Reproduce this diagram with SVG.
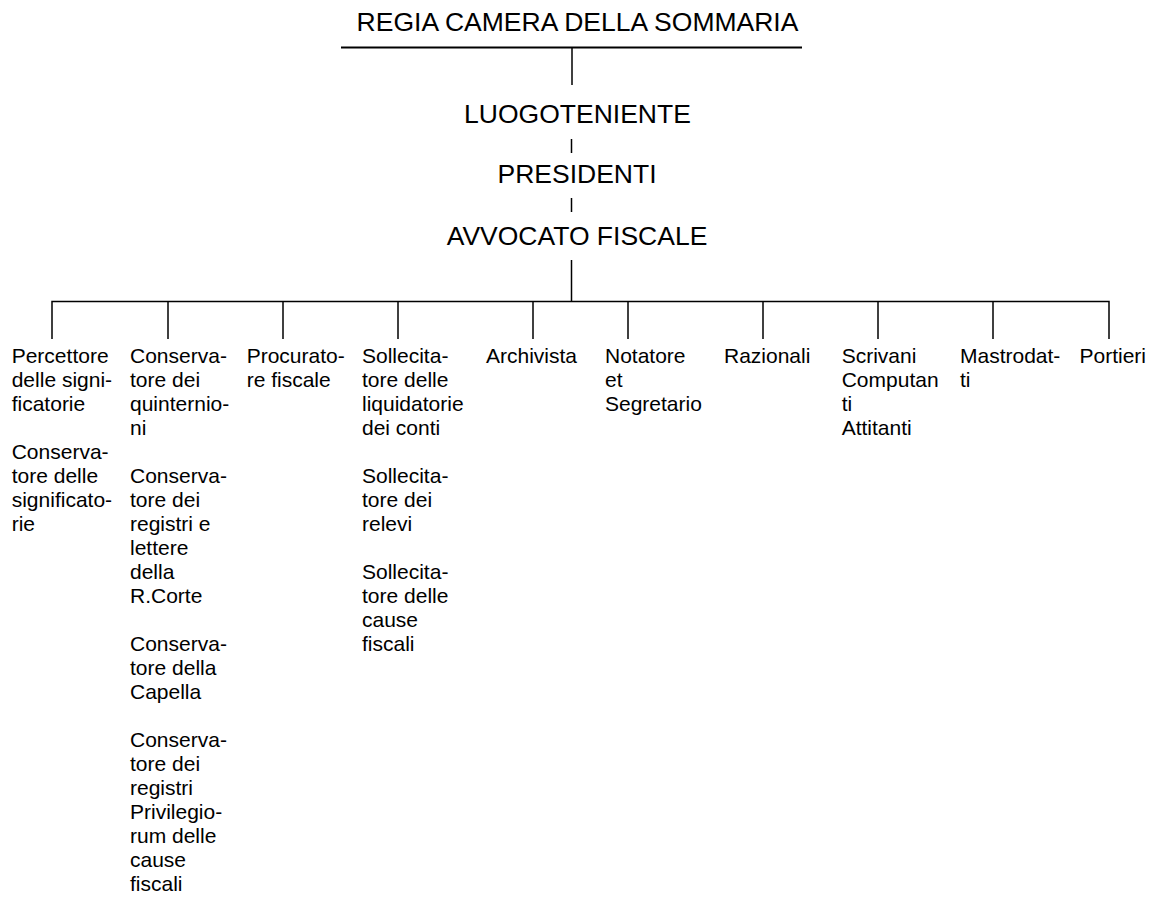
<svg xmlns="http://www.w3.org/2000/svg" width="1156" height="909" viewBox="0 0 1156 909">
<style>
text{font-family:"Liberation Sans",Arial,sans-serif;fill:#000}
.top{font-size:26.5px;text-anchor:middle}
.sub{font-size:21px}
.ln{stroke:#000;stroke-width:1.5;fill:none}
.ul{stroke:#000;stroke-width:2;fill:none}
</style>
<rect width="1156" height="909" fill="#fff"/>
<g id="connectors">
<line class="ul" x1="341" y1="47.5" x2="802" y2="47.5"/>
<line class="ln" x1="572" y1="48" x2="572" y2="85"/>
<line class="ln" x1="571.5" y1="139" x2="571.5" y2="153"/>
<line class="ln" x1="571.5" y1="198" x2="571.5" y2="212"/>
<line class="ln" x1="571.5" y1="260" x2="571.5" y2="301.5"/>
<polyline class="ln" points="52,339 52,301.5 1109,301.5 1109,339"/>
<line class="ln" x1="168" y1="301.5" x2="168" y2="339"/>
<line class="ln" x1="283" y1="301.5" x2="283" y2="339"/>
<line class="ln" x1="398" y1="301.5" x2="398" y2="339"/>
<line class="ln" x1="533" y1="301.5" x2="533" y2="339"/>
<line class="ln" x1="628" y1="301.5" x2="628" y2="339"/>
<line class="ln" x1="763" y1="301.5" x2="763" y2="339"/>
<line class="ln" x1="878" y1="301.5" x2="878" y2="339"/>
<line class="ln" x1="993" y1="301.5" x2="993" y2="339"/>
</g>
<g id="regia"><text class="top" x="577.5" y="31">REGIA CAMERA DELLA SOMMARIA</text></g>
<g id="luogotenente"><text class="top" x="577.5" y="123">LUOGOTENIENTE</text></g>
<g id="presidenti"><text class="top" x="577" y="183">PRESIDENTI</text></g>
<g id="avvocato"><text class="top" x="577" y="245">AVVOCATO FISCALE</text></g>
<g id="col1"><text class="sub" x="11.7" y="363.3">
<tspan x="11.7" y="363.3">Percettore</tspan><tspan x="11.7" y="387.3">delle signi-</tspan><tspan x="11.7" y="411.3">ficatorie</tspan>
<tspan x="11.7" y="459.3">Conserva-</tspan><tspan x="11.7" y="483.3">tore delle</tspan><tspan x="11.7" y="507.3">significato-</tspan><tspan x="11.7" y="531.3">rie</tspan></text></g>
<g id="col2"><text class="sub">
<tspan x="130" y="363.3">Conserva-</tspan><tspan x="130" y="387.3">tore dei</tspan><tspan x="130" y="411.3">quinternio-</tspan><tspan x="130" y="435.3">ni</tspan>
<tspan x="130" y="483.3">Conserva-</tspan><tspan x="130" y="507.3">tore dei</tspan><tspan x="130" y="531.3">registri e</tspan><tspan x="130" y="555.3">lettere</tspan><tspan x="130" y="579.3">della</tspan><tspan x="130" y="603.3">R.Corte</tspan>
<tspan x="130" y="651.3">Conserva-</tspan><tspan x="130" y="675.3">tore della</tspan><tspan x="130" y="699.3">Capella</tspan>
<tspan x="130" y="747.3">Conserva-</tspan><tspan x="130" y="771.3">tore dei</tspan><tspan x="130" y="795.3">registri</tspan><tspan x="130" y="819.3">Privilegio-</tspan><tspan x="130" y="843.3">rum delle</tspan><tspan x="130" y="867.3">cause</tspan><tspan x="130" y="891.3">fiscali</tspan></text></g>
<g id="col3"><text class="sub"><tspan x="246.7" y="363.3">Procurato-</tspan><tspan x="246.7" y="387.3">re fiscale</tspan></text></g>
<g id="col4"><text class="sub">
<tspan x="362" y="363.3">Sollecita-</tspan><tspan x="362" y="387.3">tore delle</tspan><tspan x="362" y="411.3">liquidatorie</tspan><tspan x="362" y="435.3">dei conti</tspan>
<tspan x="362" y="483.3">Sollecita-</tspan><tspan x="362" y="507.3">tore dei</tspan><tspan x="362" y="531.3">relevi</tspan>
<tspan x="362" y="579.3">Sollecita-</tspan><tspan x="362" y="603.3">tore delle</tspan><tspan x="362" y="627.3">cause</tspan><tspan x="362" y="651.3">fiscali</tspan></text></g>
<g id="col5"><text class="sub" x="486" y="363.3">Archivista</text></g>
<g id="col6"><text class="sub"><tspan x="605" y="363.3">Notatore</tspan><tspan x="605" y="387.3">et</tspan><tspan x="605" y="411.3">Segretario</tspan></text></g>
<g id="col7"><text class="sub" x="724" y="363.3">Razionali</text></g>
<g id="col8"><text class="sub"><tspan x="841.7" y="363.3">Scrivani</tspan><tspan x="841.7" y="387.3">Computan</tspan><tspan x="841.7" y="411.3">ti</tspan><tspan x="841.7" y="435.3">Attitanti</tspan></text></g>
<g id="col9"><text class="sub"><tspan x="960" y="363.3">Mastrodat-</tspan><tspan x="960" y="387.3">ti</tspan></text></g>
<g id="col10"><text class="sub" x="1079.5" y="363.3">Portieri</text></g>
</svg>
